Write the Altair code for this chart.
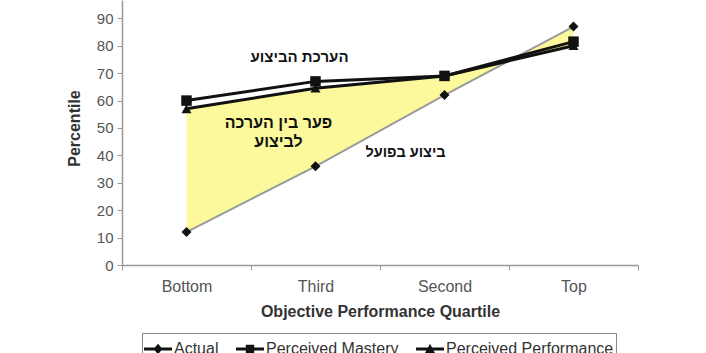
import altair as alt
import pandas as pd

# ---------------- data ----------------
quartiles = ["Bottom", "Third", "Second", "Top"]
actual = [12, 36, 62, 87]
perceived_mastery = [60, 67, 69, 81.5]
perceived_performance = [57, 64.5, 69, 80]
series_names = ["Actual", "Perceived Mastery", "Perceived Performance"]
y_ticks = [0, 10, 20, 30, 40, 50, 60, 70, 80, 90]

ann_text = ["הערכת הביצוע", "פער בין הערכה", "לביצוע", "ביצוע בפועל"]
ann_anchor = ["Third", "Third", "Third", "Third"]
ann_value = [76, 51.8, 44.9, 40.9]

# ---------------- tables ----------------
long_df = pd.DataFrame({
    "quartile": quartiles * 3,
    "series": [s for s in series_names for _ in quartiles],
    "value": actual + perceived_mastery + perceived_performance,
})
wide_df = pd.DataFrame({"quartile": quartiles, "actual": actual, "perf": perceived_performance})
ann_df = pd.DataFrame({"text": ann_text, "quartile": ann_anchor, "value": ann_value})

FONT = "Liberation Sans, Arial, DejaVu Sans"

x_enc = alt.X(
    "quartile:N", sort=quartiles,
    scale=alt.Scale(type="band", domain=quartiles, paddingInner=0, paddingOuter=0),
    axis=alt.Axis(title="Objective Performance Quartile", labelAngle=0, tickBand="extent",
                  tickSize=5, tickColor="#999", domainColor="#999", domainWidth=1.5,
                  labelFontSize=16, labelColor="#555", labelFont=FONT, labelPadding=8,
                  titleFont=FONT, titleFontSize=16, titleFontWeight="bold", titleColor="#333",
                  titleX=258, titleY=46, titleBaseline="middle", titleAlign="center",
                  grid=False),
)
y_scale = alt.Scale(domain=[0, 96.7], nice=False, zero=True)
y_axis = alt.Axis(title="Percentile", values=y_ticks, tickSize=5, tickColor="#999",
                  domainColor="#999", domainWidth=1.5, labelFontSize=15, labelColor="#555",
                  labelFont=FONT, labelPadding=4, titleFont=FONT, titleFontSize=16,
                  titleFontWeight="bold", titleColor="#333", titleAngle=270,
                  titleX=-48, titleY=128, titleAlign="center", titleBaseline="middle", grid=False)
y_enc = alt.Y("value:Q", scale=y_scale, axis=y_axis)

area = alt.Chart(wide_df).mark_area(color="#fbf99c", opacity=1).encode(
    x=x_enc,
    y=alt.Y("actual:Q", scale=y_scale, axis=y_axis),
    y2="perf:Q",
)

base = alt.Chart(long_df)
line_styles = {
    "Actual": dict(color="#9a9a9a", strokeWidth=2),
    "Perceived Mastery": dict(color="#111", strokeWidth=3),
    "Perceived Performance": dict(color="#111", strokeWidth=3),
}
point_styles = {
    "Actual": dict(shape="diamond", size=100),
    "Perceived Mastery": dict(shape="square", size=110),
    "Perceived Performance": dict(shape="triangle-up", size=100),
}

layers = [area]
for s in series_names:
    layers.append(base.transform_filter(alt.datum.series == s).mark_line(**line_styles[s]).encode(x=x_enc, y=y_enc))
for s in series_names:
    layers.append(base.transform_filter(alt.datum.series == s).mark_point(filled=True, color="#111", opacity=1, **point_styles[s]).encode(x=x_enc, y=y_enc))

# annotations
ann_dx = [-16, -37, -37, 90]
ann_size = [15, 16, 16, 14.5]
for i, t in enumerate(ann_text):
    layers.append(
        alt.Chart(ann_df.iloc[[i]]).mark_text(font=FONT, fontSize=ann_size[i], fontWeight="bold", color="#111",
                                              dx=ann_dx[i], baseline="middle", align="center")
        .encode(x=x_enc, y=y_enc, text="text:N")
    )

# legend layer (no visible marks)
p_diamond = "M-1,-0.1H1V0.1H-1Z M0,-0.38L0.32,0L0,0.38L-0.32,0Z"
p_square = "M-1,-0.1H1V0.1H-1Z M-0.3,-0.3H0.3V0.3H-0.3Z"
p_triangle = "M-1,-0.1H1V0.1H-1Z M0,-0.38L0.36,0.3L-0.36,0.3Z"
legend_layer = base.transform_filter(alt.datum.value < 0).mark_point(filled=True, color="#111").encode(
    x=x_enc, y=y_enc,
    shape=alt.Shape("series:N", scale=alt.Scale(domain=series_names, range=[p_diamond, p_square, p_triangle]),
                    legend=alt.Legend(title=None, orient="none", legendX=20, legendY=68 + 265,
                                      direction="horizontal", symbolSize=784, symbolFillColor="#111",
                                      symbolStrokeWidth=0, symbolOpacity=1, labelFontSize=16, labelFont=FONT,
                                      labelColor="#333", labelOffset=2, columnPadding=17, labelLimit=400,
                                      strokeColor="#888", padding=2)),
)
layers.append(legend_layer)

chart = alt.layer(*layers).properties(
    width=516, height=265,
    padding={"left": 122, "top": 0, "right": 68, "bottom": 88},
    autosize=alt.AutoSizeParams(type="none"),
).configure_view(stroke=None)

chart.save("out.html", embed_options={"renderer": "svg", "actions": False})
